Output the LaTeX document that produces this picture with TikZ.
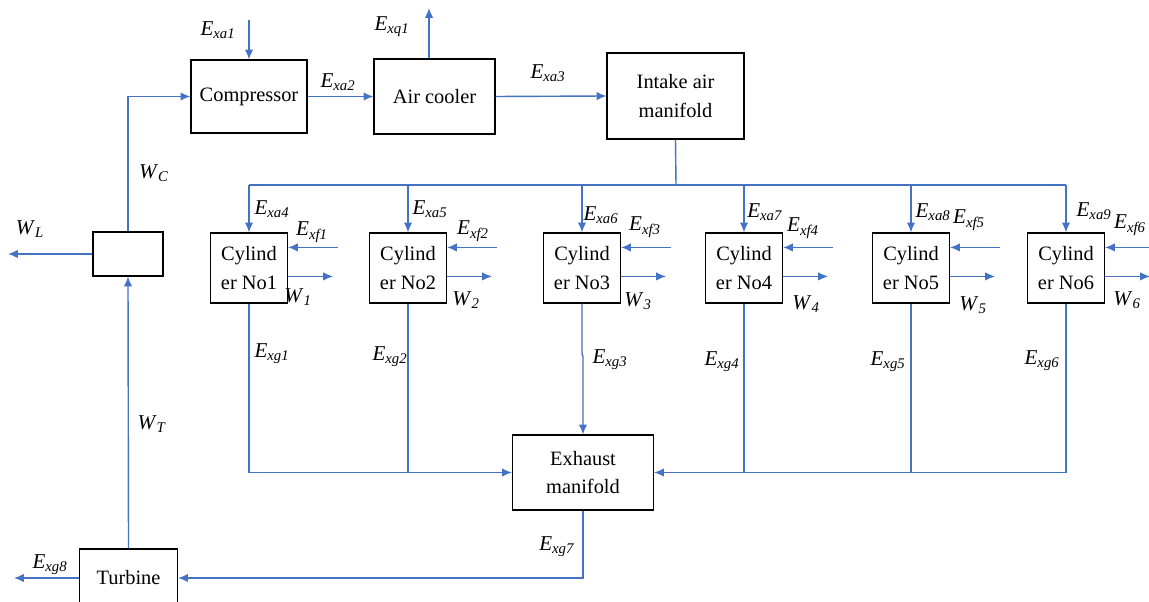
\documentclass[tikz,border=0pt]{standalone}
\usepackage{fontspec}
\setmainfont{Liberation Serif}
\newfontfamily\timesfont{Liberation Serif}
\usetikzlibrary{arrows.meta}
\definecolor{flowblue}{RGB}{68,114,196}
\newcommand{\exlab}[1]{\textit{E}\textsubscript{\textit{#1}}}
\newcommand{\wlab}[1]{\textit{W}\textsubscript{\textit{#1}}}
\tikzset{
	block/.style={draw, line width=0.8pt, align=center, inner sep=2pt, font=\timesfont\fontsize{14.5}{20}\selectfont},
	flow/.style={draw=flowblue, line width=1pt, -{Latex[length=7pt,width=6pt]}},
	line/.style={draw=flowblue, line width=1pt},
	lab/.style={font=\timesfont\fontsize{15}{16}\selectfont, inner sep=0pt},
}
\begin{document}
\begin{tikzpicture}[x=0.025cm, y=-0.025cm]
	\useasboundingbox (0,0) rectangle (1149,602);
	
	\node[block, minimum width=2.9cm, minimum height=1.825cm] (comp) at (249,96.5) {Compressor};
	\node[block, minimum width=3.025cm, minimum height=1.875cm] (cool) at (434.5,96.5) {Air cooler};
	\node[block, minimum width=3.425cm, minimum height=2.15cm] (intake) at (675.5,96) {Intake air\\manifold};
	\node[block, minimum width=1.75cm, minimum height=1.1cm] (split) at (128,254) {};
	\node[block, minimum width=3.525cm, minimum height=1.875cm] (exh) at (583,472.5) {Exhaust\\manifold};
	\node[block, minimum width=2.45cm, minimum height=1.45cm] (turb) at (128.5,578) {Turbine};
	
	\foreach \x/\n in {249/1, 408/2, 582/3, 744/4, 911/5, 1066/6}
		\node[block, minimum width=1.925cm, minimum height=1.75cm] (cyl\n) at (\x,268) {Cylind\\er No\n};
	
	% air side
	\coordinate (in1) at (249,20);
	\coordinate (q1) at (429,8);
	\coordinate (bus) at (676,185);
	\draw[flow] (in1) -- (comp.north);
	\draw[flow] (comp.east) -- (cool.west);
	\draw[flow] (q1 |- cool.north) -- (q1);
	\draw[flow] (cool.east) -- (intake.west);
	\draw[line] (intake.south) -- (bus);
	\draw[line] (bus -| cyl1.north) -- (bus -| cyl6.north);
	
	\foreach \n in {1,...,6}{
		\coordinate (f\n) at ([shift={(50,15)}]cyl\n.north east);
		\coordinate (w\n) at ([shift={(45,44)}]cyl\n.north east);
		\draw[flow] (bus -| cyl\n.north) -- (cyl\n.north);
		\draw[flow] (f\n) -- (f\n -| cyl\n.east);
		\draw[flow] (w\n -| cyl\n.east) -- (w\n);
	}
	
	% exhaust side
	\draw[flow] (cyl1.south) |- (exh.west);
	\draw[line] (cyl2.south) -- (cyl2.south |- exh.west);
	\draw[flow] (cyl3.south) -- ++(0,50) -- ++(1,3) -- (exh.north);
	\draw[line] (cyl4.south) -- (cyl4.south |- exh.east);
	\draw[line] (cyl5.south) -- (cyl5.south |- exh.east);
	\draw[flow] (cyl6.south) |- (exh.east);
	\draw[flow] (exh.south) |- (turb.east);
	
	% work
	\coordinate (wl) at (8,254);
	\coordinate (out8) at (14,578);
	\draw[flow] (turb.west) -- (out8);
	\draw[flow] (turb.north) -- (split.south);
	\draw[flow] (split.north) |- (comp.west);
	\draw[flow] (split.west) -- (split.west -| wl);
	
	% labels
	\node[lab] (lxa1) at (218,30) {\exlab{xa1}};
	\node[lab] (lxa2) at (338,82) {\exlab{xa2}};
	\node[lab] (lxq1) at (392,27) {\exlab{xq1}};
	\node[lab] (lxa3) at (548,73) {\exlab{xa3}};
	\node[lab] (lwc) at (154,173) {\wlab{C}};
	\node[lab] (lwl) at (30,229) {\wlab{L}};
	\node[lab] (lwt) at (152,424) {\wlab{T}};
	\node[lab] (lxa4) at (272,209) {\exlab{xa4}};
	\node[lab] (lxa5) at (430,209) {\exlab{xa5}};
	\node[lab] (lxa6) at (601,215) {\exlab{xa6}};
	\node[lab] (lxa7) at (765,212) {\exlab{xa7}};
	\node[lab] (lxa8) at (933,212) {\exlab{xa8}};
	\node[lab] (lxa9) at (1094,211) {\exlab{xa9}};
	\node[lab] (lxf1) at (312,232) {\exlab{xf1}};
	\node[lab] (lxf2) at (473,231) {\exlab{xf2}};
	\node[lab] (lxf3) at (645,227) {\exlab{xf3}};
	\node[lab] (lxf4) at (803,228) {\exlab{xf4}};
	\node[lab] (lxf5) at (969,220) {\exlab{xf5}};
	\node[lab] (lxf6) at (1130,225) {\exlab{xf6}};
	\node[lab] (lw1) at (298,297) {\wlab{1}};
	\node[lab] (lw2) at (466,300) {\wlab{2}};
	\node[lab] (lw3) at (638,301) {\wlab{3}};
	\node[lab] (lw4) at (806,304) {\wlab{4}};
	\node[lab] (lw5) at (973,305) {\wlab{5}};
	\node[lab] (lw6) at (1127,300) {\wlab{6}};
	\node[lab] (lxg1) at (272,354) {\exlab{xg1}};
	\node[lab] (lxg2) at (390,357) {\exlab{xg2}};
	\node[lab] (lxg3) at (610,360) {\exlab{xg3}};
	\node[lab] (lxg4) at (722,362) {\exlab{xg4}};
	\node[lab] (lxg5) at (888,362) {\exlab{xg5}};
	\node[lab] (lxg6) at (1042,361) {\exlab{xg6}};
	\node[lab] (lxg7) at (557,547) {\exlab{xg7}};
	\node[lab] (lxg8) at (50,565) {\exlab{xg8}};
\end{tikzpicture}
\end{document}
